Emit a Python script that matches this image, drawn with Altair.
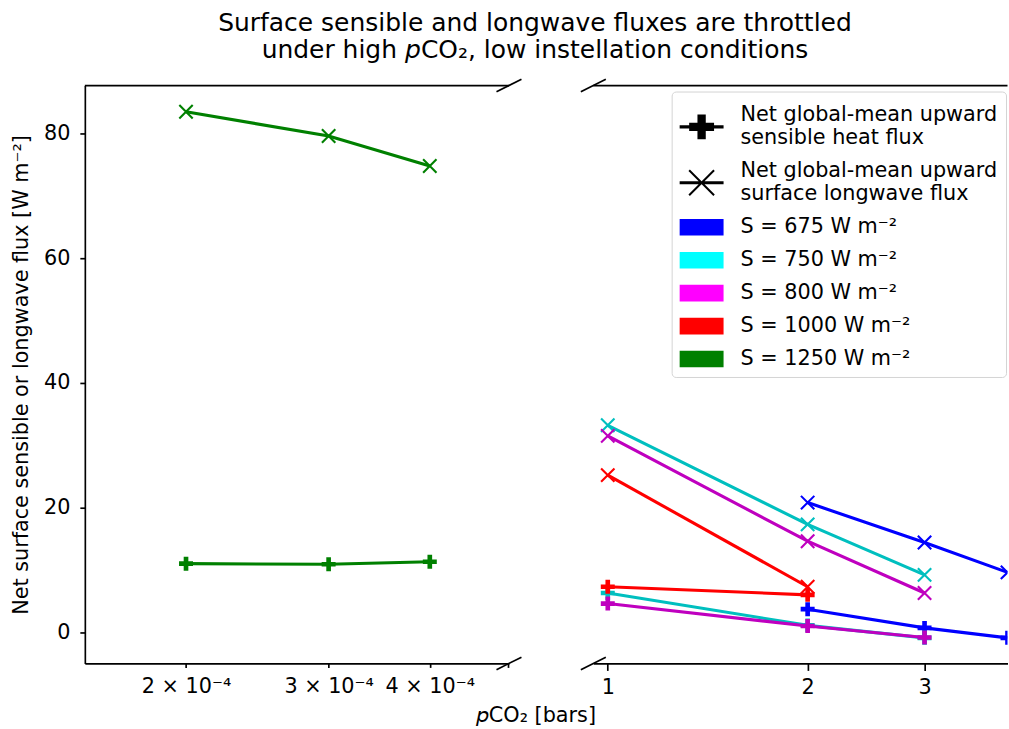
import altair as alt
import pandas as pd

# ---------------- data ----------------
pco2_low = [2e-4, 3e-4, 4e-4]
sh_1250 = [11.0, 10.9, 11.3]
lw_1250 = [83.5, 79.6, 74.8]

pco2_high = [1, 2, 3, 4]
sh_675 = [None, 3.7, 0.7, -0.9]
lw_675 = [None, 20.8, 14.4, 9.6]
sh_750 = [6.3, 1.1, -0.9, None]
lw_750 = [33.2, 17.3, 9.2, None]
sh_800 = [4.6, 1.0, -0.85, None]
lw_800 = [31.5, 14.6, 6.3, None]
sh_1000 = [7.3, 6.0, None, None]
lw_1000 = [25.2, 7.3, None, None]

line_colors = {"675": "#0000ff", "750": "#00bfbf", "800": "#bf00bf",
               "1000": "#ff0000", "1250": "#008000"}

legend_keys = [
    "Net global-mean upward\nsensible heat flux",
    "Net global-mean upward\nsurface longwave flux",
    "S = 675 W m⁻²",
    "S = 750 W m⁻²",
    "S = 800 W m⁻²",
    "S = 1000 W m⁻²",
    "S = 1250 W m⁻²",
]
legend_colors = ["#000000", "#000000", "#0000ff", "#00ffff", "#ff00ff", "#ff0000", "#008000"]

low_tick_values = [2e-4, 3e-4, 4e-4, 5e-4]
high_tick_values = [1, 2, 3]
y_tick_values = [0, 20, 40, 60, 80]

title_lines = ["Surface sensible and longwave fluxes are throttled",
               "under high 𝘱CO₂, low instellation conditions"]
x_title = "𝘱CO₂ [bars]"
y_title = "Net surface sensible or longwave flux [W m⁻²]"

# ---------------- domains / geometry ----------------
Y_DOM = [-5.0, 87.7]
XL_DOM = [1.5e-4, 5.01e-4]
XR_DOM = [0.9511, 4.0]
H = 579
WL = 425
WR = 415
GAP = 84.5
FS = 20.8
FONT = "DejaVu Sans"

# ---------------- symbol paths ----------------
PLUS = "M-0.333,-1H0.333V-0.333H1V0.333H0.333V1H-0.333V0.333H-1V-0.333H-0.333Z"
XMARK = "M-1,-1L1,1M-1,1L1,-1"
BREAK = "M-1,0.5L1,-0.5"


def f(v):
    return f"{v:.3f}"


def leg_line(cy):
    return f"M-1,{f(cy-0.097)}H1.75V{f(cy+0.097)}H-1Z"


def leg_plus(cx, cy, s=0.78, t=0.26):
    pts = [(cx-t, cy-s), (cx+t, cy-s), (cx+t, cy-t), (cx+s, cy-t), (cx+s, cy+t), (cx+t, cy+t),
           (cx+t, cy+s), (cx-t, cy+s), (cx-t, cy+t), (cx-s, cy+t), (cx-s, cy-t), (cx-t, cy-t)]
    return "M" + "L".join(f"{f(x)},{f(y)}" for x, y in pts) + "Z"


def leg_x(cx, cy, s=0.78, a=0.044):
    d1 = [(cx-s+a, cy-s-a), (cx+s+a, cy+s-a), (cx+s-a, cy+s+a), (cx-s-a, cy-s+a)]
    d2 = [(cx-s-a, cy+s-a), (cx+s-a, cy-s-a), (cx+s+a, cy-s+a), (cx-s+a, cy+s+a)]
    return "".join("M" + "L".join(f"{f(x)},{f(y)}" for x, y in d) + "Z" for d in (d1, d2))


CX, CY2 = 0.375, 0.7125
PATCH = "M-1,-0.52H1.75V0.52H-1Z"
legend_shapes = [leg_line(CY2) + leg_plus(CX, CY2), leg_line(CY2) + leg_x(CX, CY2),
                 PATCH, PATCH, PATCH, PATCH, PATCH]


def frame(xs, sh, lw, s):
    rows = []
    for x, v in zip(xs, sh):
        if v is not None:
            rows.append({"pco2": x, "value": v, "kind": "sh", "S": s, "color": line_colors[s]})
    for x, v in zip(xs, lw):
        if v is not None:
            rows.append({"pco2": x, "value": v, "kind": "lw", "S": s, "color": line_colors[s]})
    return pd.DataFrame(rows)


def enc_xy(base, xscale, xaxis, yscale, yaxis):
    return base.encode(
        x=alt.X("pco2:Q", scale=xscale, axis=xaxis),
        y=alt.Y("value:Q", scale=yscale, axis=yaxis),
    )


def series_layers(df, xscale, xaxis, yscale, yaxis, clip):
    layers = []
    for kind in ["sh", "lw"]:
        sub = df[df["kind"] == kind]
        base = alt.Chart(sub)
        line = enc_xy(base.mark_line(strokeWidth=3.1, clip=clip), xscale, xaxis, yscale, yaxis).encode(
            stroke=alt.Stroke("color:N", scale=None))
        if kind == "sh":
            pts = enc_xy(base.mark_point(shape=PLUS, filled=True, size=196, strokeWidth=0,
                                         opacity=1, clip=clip),
                         xscale, xaxis, yscale, yaxis).encode(fill=alt.Fill("color:N", scale=None))
        else:
            pts = enc_xy(base.mark_point(shape=XMARK, filled=False, size=180, strokeWidth=2.1,
                                         opacity=1, clip=clip),
                         xscale, xaxis, yscale, yaxis).encode(stroke=alt.Stroke("color:N", scale=None))
        layers += [line, pts]
    return layers


def spine_layers(xdom, xscale, xaxis, yscale, yaxis, break_x):
    top = alt.Chart().mark_rule(color="black", strokeWidth=1.67).encode(
        x=alt.X(datum=xdom[0], type="quantitative", scale=xscale, axis=xaxis),
        x2=alt.X2(datum=xdom[1]),
        y=alt.Y(datum=Y_DOM[1], type="quantitative", scale=yscale, axis=yaxis),
    )
    bdf = pd.DataFrame({"pco2": [break_x, break_x], "value": Y_DOM})
    brk = enc_xy(alt.Chart(bdf).mark_point(shape=BREAK, filled=False, size=625, strokeWidth=1.7,
                                           color="black", opacity=1, clip=False),
                 xscale, xaxis, yscale, yaxis)
    return [top, brk]


# ---------------- left panel ----------------
ysc = alt.Scale(domain=Y_DOM, nice=False, zero=False)
xl_sc = alt.Scale(type="log", domain=XL_DOM, nice=False)
xl_axis = alt.Axis(values=low_tick_values, labelOverlap=False, labelFlush=False,
                   tickSize=4, labelPadding=9,
                   labelExpr="datum.value > 4.5e-4 ? '' : format(datum.value*1e4, '.0f') + ' × 10⁻⁴'",
                   title=x_title, titleX=451.5, titleY=58.5, titleBaseline="alphabetic",
                   titleAlign="center", titleAnchor="start")
yl_axis = alt.Axis(values=y_tick_values, title=y_title, titlePadding=12, labelFlush=False,
                   tickSize=5, labelPadding=10)

df_low = frame(pco2_low, sh_1250, lw_1250, "1250")
left_layers = series_layers(df_low, xl_sc, xl_axis, ysc, yl_axis, False)
left_layers += spine_layers(XL_DOM, xl_sc, xl_axis, ysc, yl_axis, XL_DOM[1])
left = alt.layer(*left_layers).properties(width=WL, height=H)

# ---------------- right panel ----------------
xr_sc = alt.Scale(type="log", domain=XR_DOM, nice=False)
xr_axis = alt.Axis(values=high_tick_values, format="d", title=None, labelFlush=False, labelOverlap=False,
                   tickSize=7, labelPadding=7)
yr_axis = None

df_high = pd.concat([
    frame(pco2_high, sh_675, lw_675, "675"),
    frame(pco2_high, sh_750, lw_750, "750"),
    frame(pco2_high, sh_800, lw_800, "800"),
    frame(pco2_high, sh_1000, lw_1000, "1000"),
])
right_layers = []
for s in ["675", "750", "800", "1000"]:
    right_layers += series_layers(df_high[df_high["S"] == s], xr_sc, xr_axis, ysc, yr_axis, True)
right_layers += spine_layers(XR_DOM, xr_sc, xr_axis, ysc, yr_axis, XR_DOM[0])

leg = dict(title=None, orient="none", legendX=78.5, legendY=6, padding=8,
           fillColor="white", strokeColor="#d4d4d4", cornerRadius=4,
           symbolSize=1024, symbolStrokeWidth=0, symbolOpacity=1,
           labelFont=FONT, labelFontSize=FS, labelColor="black", labelLimit=0,
           labelOffset=29, rowPadding=7,
           labelExpr="split(datum.label, '\\n')")
legend_df = pd.DataFrame({"key": legend_keys})
legend_layer = alt.Chart(legend_df).transform_filter("false").mark_point(filled=True, opacity=1).encode(
    x=alt.value(0), y=alt.value(0),
    color=alt.Color("key:N", scale=alt.Scale(domain=legend_keys, range=legend_colors),
                    legend=alt.Legend(**leg)),
    shape=alt.Shape("key:N", scale=alt.Scale(domain=legend_keys, range=legend_shapes),
                    legend=alt.Legend(**leg)),
)
right_layers.append(legend_layer)
right = alt.layer(*right_layers).properties(width=WR, height=H)

chart = alt.hconcat(left, right, spacing=GAP, bounds="flush").resolve_scale(
    x="independent", y="independent").resolve_legend(color="independent", shape="independent")

chart = chart.properties(
    title=alt.TitleParams(text=title_lines, fontSize=25, font=FONT, fontWeight="normal",
                          color="black", anchor="start", align="center", frame="group",
                          lineHeight=27, offset=13, dx=451),
    padding={"left": 10, "top": 10, "right": 0, "bottom": 0},
    background="white",
).configure(font=FONT).configure_view(stroke=None).configure_axis(
    domainColor="black", domainWidth=1.67, tickColor="black", tickWidth=1.67,
    labelFont=FONT, labelFontSize=FS, labelColor="black",
    titleFont=FONT, titleFontSize=FS, titleFontWeight="normal", titleColor="black", grid=False,
)

chart.save("out.html", embed_options={"renderer": "svg", "actions": False})
